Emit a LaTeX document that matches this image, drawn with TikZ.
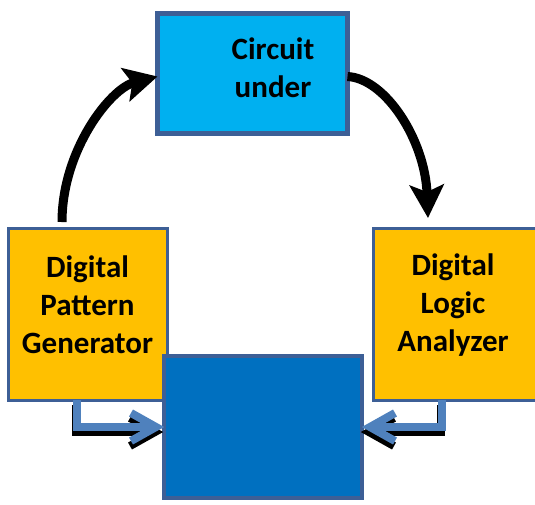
\documentclass[tikz,border=0pt]{standalone}
\usepackage{fontspec}
\setmainfont{Carlito}
\usetikzlibrary{arrows.meta,calc}
\definecolor{cutfill}{HTML}{00B0F0}
\definecolor{genfill}{HTML}{FFC000}
\definecolor{dutfill}{HTML}{0070C0}
\definecolor{edgeblue}{HTML}{3D5F96}
\definecolor{feedblue}{HTML}{4F81BD}
\begin{document}
\begin{tikzpicture}[x=1pt,y=-1pt,
  box/.style={rectangle, draw=edgeblue, inner sep=0pt, outer sep=0pt},
  lbl/.style={font=\fontsize{31}{38}\selectfont\bfseries, align=center, inner sep=0pt, text=black},
  curved/.style={line width=9pt, draw=black, -{Stealth[length=33pt,width=34pt,inset=7pt]}},
  feed/.style={line width=8pt, draw=feedblue, line join=miter, miter limit=10},
  feedshadow/.style={line width=8pt, draw=black, line join=miter, miter limit=10,
    transform canvas={xshift=-1pt,yshift=-5pt}}
]
\useasboundingbox (0,0) rectangle (535,504);
\fill[white] (0,0) rectangle (535,504);

% boxes
\node[box, fill=cutfill, line width=5pt, minimum width=190pt, minimum height=120pt] (cut) at (252.5,73.5) {};
\node[box, fill=genfill, line width=3pt, minimum width=159pt, minimum height=172pt] (pg) at (87.5,314) {};
\node[box, fill=genfill, line width=3pt, minimum width=167pt, minimum height=172pt] (la) at (456.5,314) {};
\node[box, fill=dutfill, line width=4pt, minimum width=198pt, minimum height=142pt] (dut) at (263,427) {};

% labels
\node[lbl] (cutlbl) at (273,68) {Circuit\\under};
\node[lbl] (pglbl) at (87.5,305) {Digital\\Pattern\\Generator};
\node[lbl] (lalbl) at (453,305) {Digital\\Logic\\Analyzer};

% curved arrows
\draw[curved] ($(pg.north)+(-25.5,-6)$) .. controls ($(pg.north)+(-25.5,-78)$) and ($(cut.west)+(-47,15)$) .. ($(cut.west)+(0,3)$);
\coordinate (latop) at ($(la.north west)+(55,-10)$);
\draw[curved] ($(cut.east)+(0,3)$) .. controls ($(cut.east)+(38,5)$) and ($(latop)+(-3,-78)$) .. (latop);

% feed arrows into the bottom box
\coordinate (pgout) at ($(pg.south)+(-10.5,0)$);
\coordinate (laout) at ($(la.south)+(-14.5,0)$);
\coordinate (pgtip) at ($(dut.west)+(-8,0)$);
\coordinate (latip) at ($(dut.east)+(8,0)$);
\foreach \s in {feedshadow,feed}{
  \draw[\s] (pgout) |- (pgtip);
  \draw[\s] ($(pgtip)+(-25,-14)$) -- (pgtip) -- ($(pgtip)+(-25,14)$);
  \draw[\s] (laout) |- (latip);
  \draw[\s] ($(latip)+(25,-14)$) -- (latip) -- ($(latip)+(25,14)$);
}
\end{tikzpicture}
\end{document}
